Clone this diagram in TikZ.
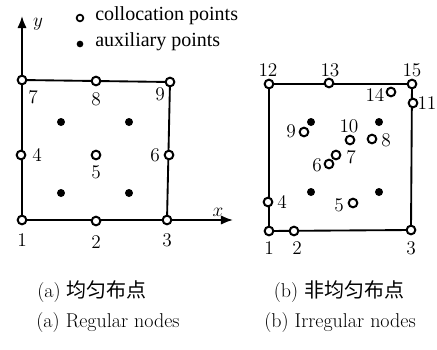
\documentclass[tikz,border=0pt]{standalone}
\usepackage{fontspec}
\newfontfamily\cjk{Noto Sans CJK SC}
\newfontfamily\tms{Liberation Serif}
\usetikzlibrary{arrows.meta}
\begin{document}
\begin{tikzpicture}[x=0.75pt,y=-0.75pt,
  col/.style={circle,draw,line width=1.5pt,fill=white,inner sep=0pt,minimum size=6.5pt},
  aux/.style={circle,fill,inner sep=0pt,minimum size=6pt},
  lab/.style={inner sep=0pt,font=\fontsize{14.5}{16}\selectfont},
  captext/.style={inner sep=0pt,font=\fontsize{15}{17}\selectfont},
  edge/.style={line width=1.4pt},
  axis/.style={line width=1.4pt,-{Latex[length=9pt,width=7pt]}}]
\useasboundingbox (0,0) rectangle (437,350);
% ---- left: regular
\coordinate (ytip) at (22,16);
\coordinate (xtip) at (233,220);
\draw[edge] (22,220) -- (167,220) -- (170,82) -- (22,80) -- cycle;
\draw[axis] (22,80) -- (ytip);
\draw[axis] (167,220) -- (xtip);
\node[col] (a1) at (22,220) {};
\node[col] (a2) at (96,221) {};
\node[col] (a3) at (167,220) {};
\node[col] (a4) at (21,155) {};
\node[col] (a5) at (96,155) {};
\node[col] (a6) at (169,155) {};
\node[col] (a7) at (22,80) {};
\node[col] (a8) at (96,81) {};
\node[col] (a9) at (170,82) {};
\node[aux] (ax1) at (61,122) {};
\node[aux] (ax2) at (129,122) {};
\node[aux] (ax3) at (61,193) {};
\node[aux] (ax4) at (129,193) {};
\node[lab] (ly) at (38,24) {$y$};
\node[lab] (lx) at (218,212) {$x$};
\node[lab] (la1) at (22,240) {1};
\node[lab] (la2) at (96,242) {2};
\node[lab] (la3) at (167,240) {3};
\node[lab] (la4) at (37,155) {4};
\node[lab] (la5) at (96,172) {5};
\node[lab] (la6) at (155,155) {6};
\node[lab] (la7) at (33,97) {7};
\node[lab] (la8) at (96,99) {8};
\node[lab] (la9) at (160,94) {9};
% legend
\node[col,minimum size=5pt,line width=1.3pt] (lg1) at (80,18) {};
\node[aux,minimum size=5pt] (lg2) at (80,44) {};
\node[lab,anchor=west,font=\tms\fontsize{15}{17}\selectfont] (lt1) at (95,16) {collocation points};
\node[lab,anchor=west,font=\tms\fontsize{15}{17}\selectfont] (lt2) at (95,42) {auxiliary points};
% ---- right: irregular
\draw[edge] (269,231) -- (411,230) -- (412,84) -- (269,84) -- cycle;
\node[col] (b1) at (269,231) {};
\node[col] (b2) at (294,231) {};
\node[col] (b3) at (411,230) {};
\node[col] (b4) at (268,202) {};
\node[col] (b5) at (353,203) {};
\node[col] (b6) at (329,164) {};
\node[col] (b7) at (336,155) {};
\node[col] (b8) at (372,139) {};
\node[col] (b9) at (304,132) {};
\node[col] (b10) at (350,140) {};
\node[col] (b11) at (413,103) {};
\node[col] (b12) at (269,84) {};
\node[col] (b13) at (329,83) {};
\node[col] (b14) at (391,92) {};
\node[col] (b15) at (412,84) {};
\node[aux] (bx1) at (311,122) {};
\node[aux] (bx2) at (379,122) {};
\node[aux] (bx3) at (311,192) {};
\node[aux] (bx4) at (379,192) {};
\node[lab] (lb1) at (269,248) {1};
\node[lab] (lb2) at (297,248) {2};
\node[lab] (lb3) at (411,248) {3};
\node[lab] (lb4) at (282,202) {4};
\node[lab] (lb5) at (339,205) {5};
\node[lab] (lb6) at (317,165) {6};
\node[lab] (lb7) at (351,157) {7};
\node[lab] (lb8) at (386,140) {8};
\node[lab] (lb9) at (291,131) {9};
\node[lab] (lb10) at (349,126) {10};
\node[lab] (lb11) at (427,103) {11};
\node[lab] (lb12) at (268,70) {12};
\node[lab] (lb13) at (330,70) {13};
\node[lab] (lb14) at (375,95) {14};
\node[lab] (lb15) at (412,70) {15};
% captions
\node[captext] (ca) at (92,292) {(a) {\cjk 均匀布点}};
\node[captext] (cb) at (339,292) {(b) {\cjk 非均匀布点}};
\node[captext] (ea) at (108,323) {(a) Regular nodes};
\node[captext] (eb) at (340,323) {(b) Irregular nodes};
\end{tikzpicture}
\end{document}
